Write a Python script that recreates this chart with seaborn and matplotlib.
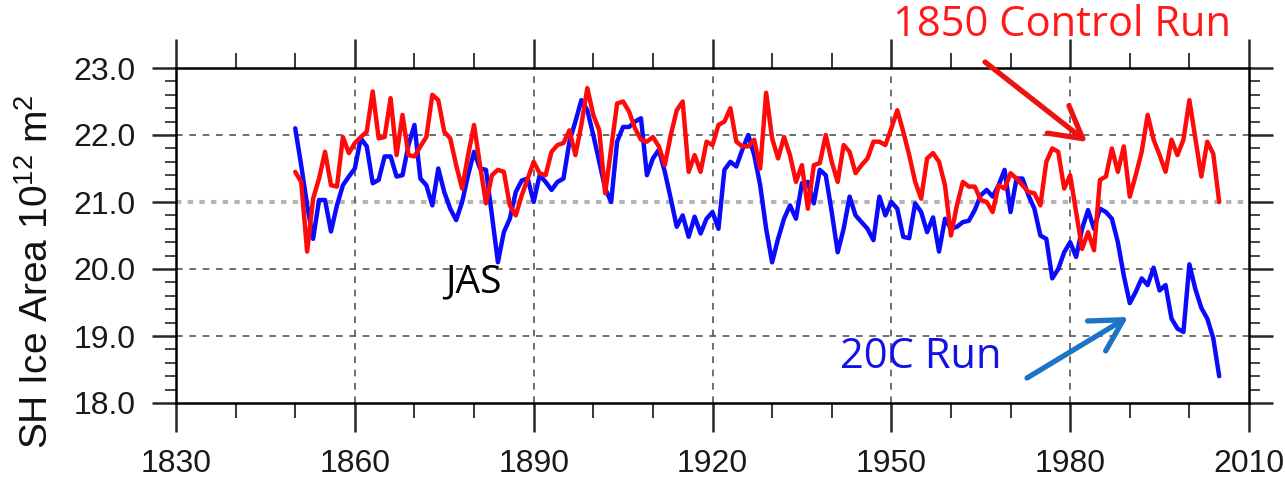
import numpy as np
import pandas as pd
import matplotlib
matplotlib.use("Agg")
import matplotlib.pyplot as plt
from matplotlib.ticker import MultipleLocator, FormatStrFormatter
import seaborn as sns

# Annual SH sea-ice area (10^12 m^2), July-September mean
control_1850 = [
    21.45, 21.30, 20.26, 21.05, 21.35, 21.75, 21.25, 21.23, 21.97, 21.73,  # 1850s
    21.88, 21.97, 22.05, 22.65, 21.95, 21.97, 22.55, 21.70, 22.30, 21.70,  # 1860s
    21.68, 21.83, 21.97, 22.60, 22.52, 22.05, 21.95, 21.55, 21.20, 21.70,  # 1870s
    22.15, 21.55, 20.98, 21.40, 21.48, 21.45, 20.95, 20.80, 21.10, 21.35,  # 1880s
    21.60, 21.43, 21.40, 21.75, 21.85, 21.88, 22.07, 21.70, 22.15, 22.70,  # 1890s
    22.30, 22.07, 21.13, 21.80, 22.47, 22.50, 22.35, 22.10, 21.93, 21.90,  # 1900s
    21.97, 21.83, 21.55, 22.00, 22.37, 22.50, 21.45, 21.70, 21.45, 21.90,  # 1910s
    21.85, 22.15, 22.20, 22.40, 21.90, 21.83, 21.83, 21.93, 21.50, 22.63,  # 1920s
    21.95, 21.65, 21.97, 21.70, 21.30, 21.55, 20.90, 21.55, 21.58, 22.00,  # 1930s
    21.60, 21.30, 21.85, 21.75, 21.43, 21.55, 21.65, 21.90, 21.90, 21.85,  # 1940s
    22.10, 22.37, 22.05, 21.70, 21.30, 21.05, 21.65, 21.73, 21.60, 21.25,  # 1950s
    20.50, 20.95, 21.30, 21.23, 21.23, 21.03, 21.00, 20.85, 21.25, 21.20,  # 1960s
    21.43, 21.35, 21.25, 21.15, 21.13, 20.95, 21.60, 21.80, 21.75, 21.20,  # 1970s
    21.40, 20.85, 20.30, 20.55, 20.28, 21.33, 21.38, 21.80, 21.45, 21.83,  # 1980s
    21.08, 21.40, 21.75, 22.30, 21.93, 21.70, 21.45, 21.93, 21.70, 21.93,  # 1990s
    22.52, 21.95, 21.38, 21.90, 21.72, 21.00,                              # 2000s
]
run_20c = [
    22.10, 21.55, 20.95, 20.45, 21.03, 21.03, 20.56, 20.95, 21.25, 21.38,  # 1850s
    21.50, 21.95, 21.83, 21.28, 21.33, 21.68, 21.68, 21.38, 21.40, 21.85,  # 1860s
    22.15, 21.35, 21.25, 20.95, 21.50, 21.15, 20.90, 20.73, 21.00, 21.40,  # 1870s
    21.75, 21.50, 21.48, 20.80, 20.10, 20.55, 20.75, 21.15, 21.32, 21.35,  # 1880s
    21.00, 21.40, 21.30, 21.18, 21.30, 21.35, 21.90, 22.20, 22.52, 22.37,  # 1890s
    22.00, 21.60, 21.20, 21.00, 21.90, 22.12, 22.12, 22.20, 22.25, 21.40,  # 1900s
    21.65, 21.78, 21.45, 21.05, 20.63, 20.80, 20.48, 20.78, 20.53, 20.75,  # 1910s
    20.85, 20.60, 21.48, 21.60, 21.53, 21.78, 22.00, 21.70, 21.25, 20.60,  # 1920s
    20.10, 20.45, 20.75, 20.95, 20.75, 21.28, 21.30, 20.98, 21.48, 21.40,  # 1930s
    20.85, 20.25, 20.60, 21.08, 20.80, 20.70, 20.60, 20.43, 21.08, 20.80,  # 1940s
    21.00, 20.90, 20.48, 20.46, 20.98, 20.85, 20.55, 20.77, 20.26, 20.75,  # 1950s
    20.60, 20.63, 20.70, 20.72, 20.88, 21.10, 21.18, 21.08, 21.25, 21.48,  # 1960s
    20.85, 21.35, 21.35, 21.10, 20.90, 20.50, 20.45, 19.86, 20.00, 20.25,  # 1970s
    20.40, 20.18, 20.60, 20.88, 20.60, 20.90, 20.85, 20.75, 20.40, 19.90,  # 1980s
    19.49, 19.66, 19.86, 19.76, 20.02, 19.68, 19.76, 19.26, 19.11, 19.06,  # 1990s
    20.07, 19.70, 19.42, 19.26, 18.97, 18.40,                              # 2000s
]
first_year = 1850
years = list(range(first_year, first_year + len(run_20c)))

run_names = ["20C Run", "1850 Control Run"]
x_ticks = [1830, 1860, 1890, 1920, 1950, 1980, 2010]
y_ticks = [18.0, 19.0, 20.0, 21.0, 22.0, 23.0]

df = pd.DataFrame({
    "year": years + years,
    "area": run_20c + control_1850,
    "run": [run_names[0]] * len(years) + [run_names[1]] * len(years),
})

sns.set_style("ticks")
plt.rcParams["font.family"] = ["Liberation Sans", "DejaVu Sans"]
plt.rcParams["mathtext.fontset"] = "custom"
plt.rcParams["mathtext.rm"] = "Liberation Sans"
plt.rcParams["mathtext.it"] = "Liberation Sans:italic"

W, H = 1285, 493
fig = plt.figure(figsize=(W / 100, H / 100), dpi=100)
fig.patch.set_facecolor("white")
ax = fig.add_axes([176 / W, 1 - 403 / H, (1249 - 176) / W, (403 - 68) / H])

sns.lineplot(
    data=df, x="year", y="area", hue="run", hue_order=run_names,
    palette={"20C Run": "#0a0aff", "1850 Control Run": "#ff0a0a"},
    linewidth=3.2, legend=False, ax=ax, zorder=3,
)

ax.set_xlim(1830, 2010)
ax.set_ylim(18, 23)
ax.set_xticks(x_ticks)
ax.set_yticks(y_ticks)
ax.xaxis.set_minor_locator(MultipleLocator(10))
ax.yaxis.set_minor_locator(MultipleLocator(0.2))
ax.yaxis.set_major_formatter(FormatStrFormatter("%.1f"))
ax.set_xlabel("")
ax.set_ylabel("")

for sp in ax.spines.values():
    sp.set_visible(True)
    sp.set_linewidth(1.8)
    sp.set_color("black")

ax.tick_params(axis="x", which="major", direction="out", length=21, width=1.8,
               top=True, bottom=True, labelsize=23, pad=12)
ax.tick_params(axis="x", which="minor", direction="out", length=11, width=1.3,
               top=True, bottom=True)
ax.tick_params(axis="y", which="major", direction="out", length=17, width=1.8,
               left=True, right=True, labelsize=23, pad=12)
ax.tick_params(axis="y", which="minor", direction="out", length=8, width=1.2,
               left=True, right=True)
for lab in ax.get_xticklabels() + ax.get_yticklabels():
    lab.set_color("#1a1a1a")

# dashed reference grid
for yv in [19, 20, 22]:
    ax.axhline(yv, color="#555555", lw=1.2, ls=(0, (4, 4)), zorder=1)
ax.axhline(21, color="#b5b5b5", lw=3.0, ls=(0, (1.3, 1.5)), zorder=1)
for xv in x_ticks[1:-1]:
    ax.axvline(xv, color="#555555", lw=1.2, ls=(0, (4, 4)), zorder=1)

fig.text(37 / W, 1 - 272 / H, "SH Ice Area 10$^{12}$ m$^{2}$", rotation=90,
         ha="center", va="center", fontsize=28, color="#111111")

fig.text(1062 / W, 1 - 25 / H, "1850 Control Run", color="#ff1a1a",
         fontsize=30, family=["Open Sans", "DejaVu Sans"], ha="center", va="center")
fig.text(921 / W, 1 - 357 / H, "20C Run", color="#1212e6",
         fontsize=30, family=["Open Sans", "DejaVu Sans"], ha="center", va="center")
fig.text(473 / W, 1 - 282 / H, "JAS", color="black",
         fontsize=28, family=["Open Sans", "DejaVu Sans"], ha="center", va="center")

arrow_red = dict(arrowstyle="->,head_length=0.75,head_width=0.42",
                 color="#ee1111", lw=3.8, mutation_scale=30, shrinkA=0, shrinkB=0)
arrow_blue = dict(arrowstyle="->,head_length=0.75,head_width=0.42",
                  color="#1c74c6", lw=3.8, mutation_scale=30, shrinkA=0, shrinkB=0)
ax.annotate("", xy=(1087 / W, 1 - 142 / H), xytext=(985 / W, 1 - 62 / H),
            xycoords="figure fraction", textcoords="figure fraction",
            arrowprops=arrow_red, annotation_clip=False)
ax.annotate("", xy=(1128 / W, 1 - 317 / H), xytext=(1027 / W, 1 - 378 / H),
            xycoords="figure fraction", textcoords="figure fraction",
            arrowprops=arrow_blue, annotation_clip=False)

fig.savefig("out.png", dpi=100, facecolor="white")
